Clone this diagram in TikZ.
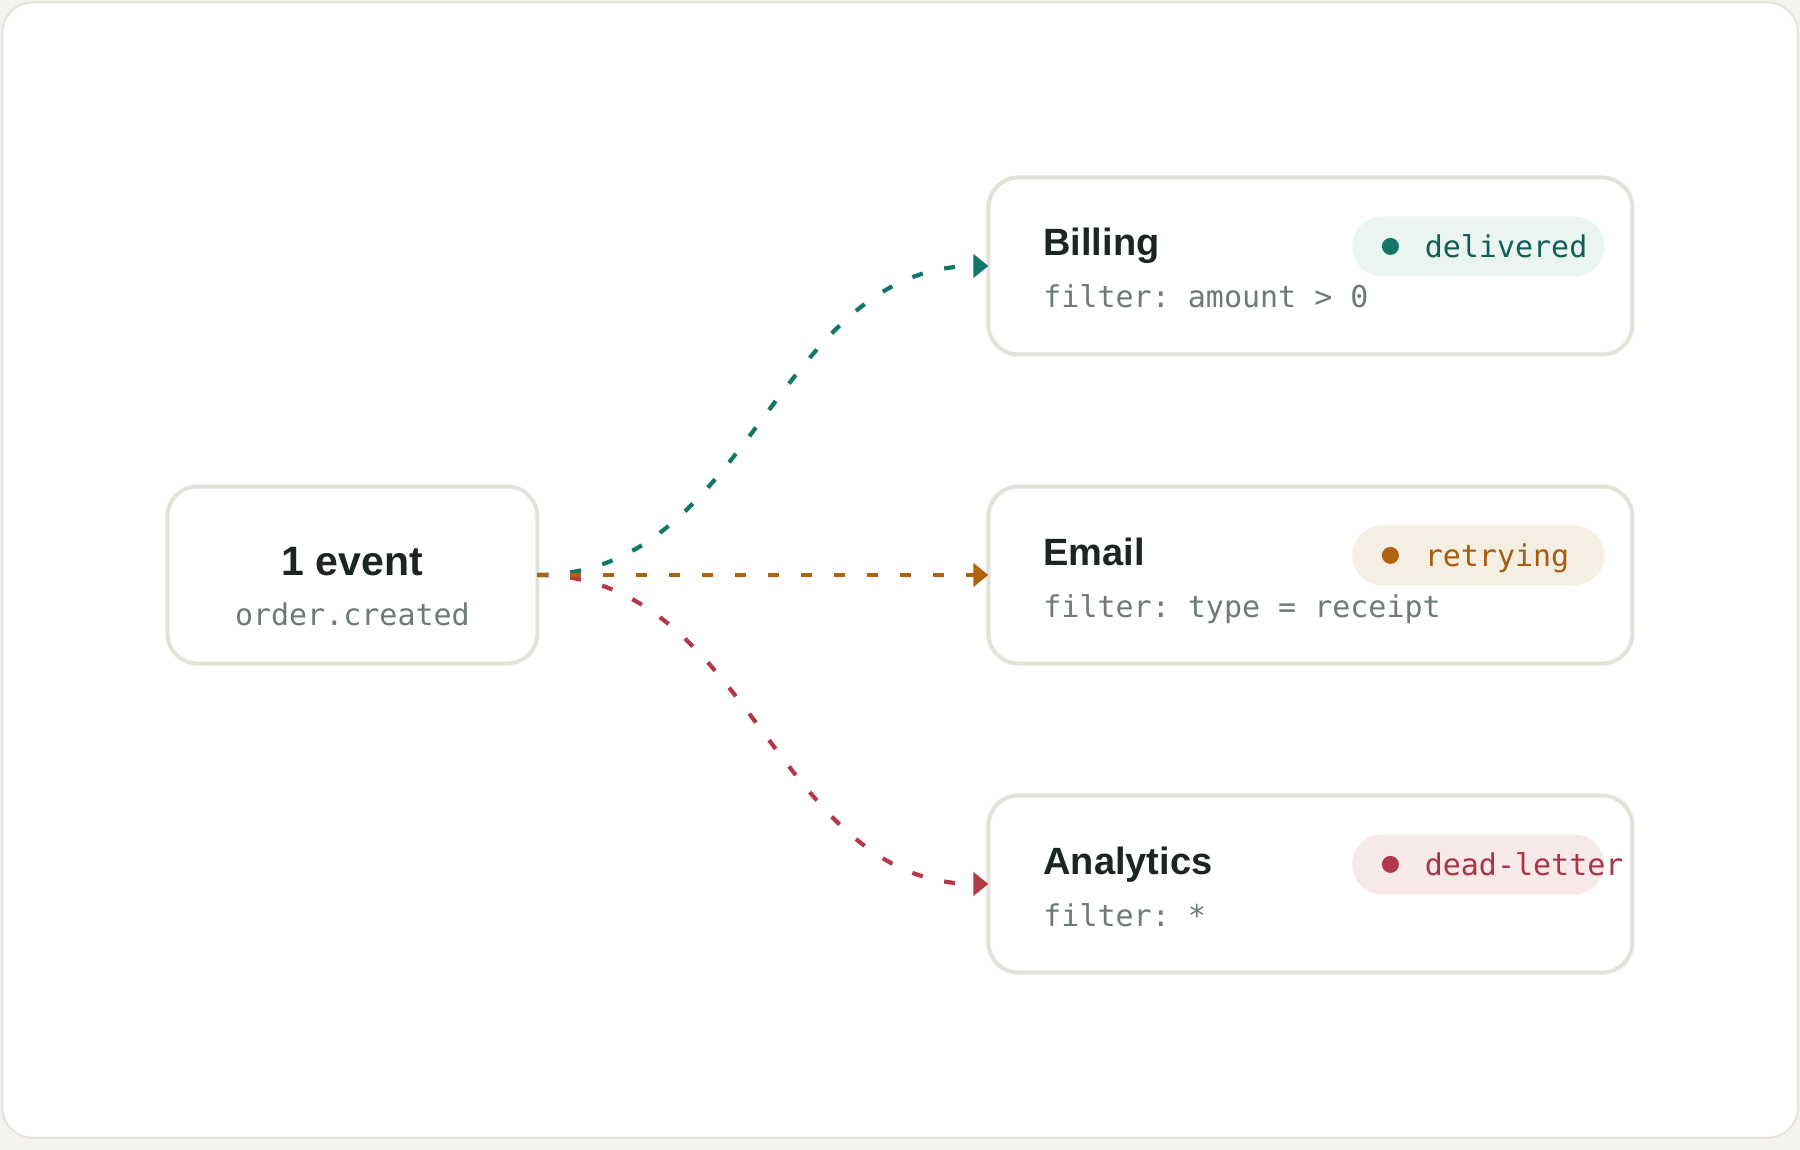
\documentclass[tikz,border=0pt]{standalone}
\usepackage{fontspec}
\setmainfont{Liberation Sans}
\setmonofont{DejaVu Sans Mono}
\usepackage{tikz}
\usetikzlibrary{arrows.meta}

\definecolor{paper}{HTML}{F3F2EE}
\definecolor{cardline}{HTML}{E5E3DB}
\definecolor{boxline}{HTML}{E4E2D8}
\definecolor{ink}{HTML}{1B2623}
\definecolor{muted}{HTML}{6E7B75}
\definecolor{okteal}{HTML}{12766B}
\definecolor{oktealtext}{HTML}{0F5F57}
\definecolor{oktealbg}{HTML}{EAF5F1}
\definecolor{retryamber}{HTML}{B0620C}
\definecolor{retryambertext}{HTML}{A85B0B}
\definecolor{retryamberbg}{HTML}{F5EEE3}
\definecolor{deadberry}{HTML}{B03A48}
\definecolor{deadberrytext}{HTML}{A83543}
\definecolor{deadberrybg}{HTML}{F7E8EA}

\begin{document}
\begin{tikzpicture}[
		> = {Triangle[length=7.5pt, width=11.5pt]}, % arrow head style
		shorten > = 0pt, % tip touches the box
		node distance = 154.5pt, % distance between target rows
		line width = 2.1pt % connector style
		]
		
		\tikzstyle{every node}=[inner sep=0pt, outer sep=0pt]
		\tikzstyle{box}=[
		draw = boxline,
		line width = 2pt,
		fill = white,
		rounded corners = 15pt,
		minimum height = 88.5pt
		]
		\tikzstyle{pill}=[rounded corners = 15pt, minimum width = 126pt, minimum height = 30pt]
		\tikzstyle{dot}=[circle, minimum size = 8.5pt]
		\tikzstyle{title}=[text = ink, anchor = base west, font = \fontsize{19}{19}\selectfont\bfseries]
		\tikzstyle{code}=[text = muted, anchor = base west, font = \fontsize{15}{15}\selectfont\ttfamily]
		\tikzstyle{flow}=[dash pattern = on 5.5pt off 11pt, ->]
		
		% page and card
		\fill[paper] (0,0) rectangle (900pt,-575pt);
		\draw[cardline, line width=1pt, fill=white, rounded corners=15pt] (1.2pt,-1.2pt) rectangle (898.9pt,-568.8pt);
		
		% source
		\node[box, minimum width=185pt] (src) at (176.2pt,-287.5pt) {};
		\node[title, anchor=base, font=\fontsize{20.5}{20.5}\selectfont\bfseries] (count) at ([yshift=0pt]src.center) {1 event};
		\node[code, anchor=base] (topic) at ([yshift=-25.4pt]src.center) {order.created};
		
		% targets
		\node[box, minimum width=322pt] (email) [right of=src, node distance=479pt] {};
		\node[box, minimum width=322pt] (billing) [above of=email] {};
		\node[box, minimum width=322pt] (analytics) [below of=email] {};
		
		\node[title] (billingname) at ([xshift=27.5pt, yshift=5pt]billing.west) {Billing};
		\node[code] (billingfilter) at ([xshift=27.5pt, yshift=-21pt]billing.west) {filter: amount > 0};
		\node[pill, fill=oktealbg] (billingpill) at ([xshift=83.9pt, yshift=9.8pt]billing.center) {};
		\node[dot, fill=okteal] (billingdot) at ([xshift=-43.9pt]billingpill.center) {};
		\node[code, text=oktealtext] (billingstate) at ([xshift=-26.7pt, yshift=-5.6pt]billingpill.center) {delivered};
		
		\node[title] (emailname) at ([xshift=27.5pt, yshift=5pt]email.west) {Email};
		\node[code] (emailfilter) at ([xshift=27.5pt, yshift=-21pt]email.west) {filter: type = receipt};
		\node[pill, fill=retryamberbg] (emailpill) at ([xshift=83.9pt, yshift=9.8pt]email.center) {};
		\node[dot, fill=retryamber] (emaildot) at ([xshift=-43.9pt]emailpill.center) {};
		\node[code, text=retryambertext] (emailstate) at ([xshift=-26.7pt, yshift=-5.6pt]emailpill.center) {retrying};
		
		\node[title] (analyticsname) at ([xshift=27.5pt, yshift=5pt]analytics.west) {Analytics};
		\node[code] (analyticsfilter) at ([xshift=27.5pt, yshift=-21pt]analytics.west) {filter: *};
		\node[pill, fill=deadberrybg] (analyticspill) at ([xshift=83.9pt, yshift=9.8pt]analytics.center) {};
		\node[dot, fill=deadberry] (analyticsdot) at ([xshift=-43.9pt]analyticspill.center) {};
		\node[code, text=deadberrytext] (analyticsstate) at ([xshift=-26.7pt, yshift=-5.6pt]analyticspill.center) {dead-letter};
		
		% fan-out
		\path[flow, deadberry] (src.east) edge[out=0, in=180] (analytics.west);
		\path[flow, okteal] (src.east) edge[out=0, in=180] (billing.west);
		\path[flow, retryamber] (src.east) edge (email.west);
		
		\end{tikzpicture}
\end{document}
